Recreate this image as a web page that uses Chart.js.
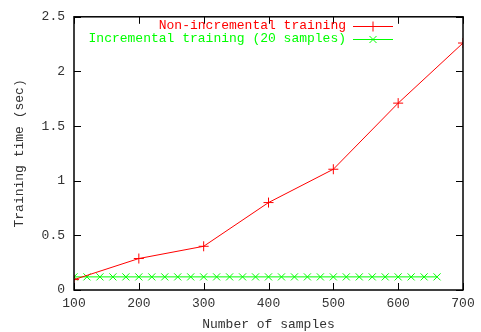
<!DOCTYPE html>
<html>
<head>
<meta charset="UTF-8">
<style>
  html, body { margin: 0; padding: 0; background: #fff; }
  #wrap { width: 481px; height: 332px; }
</style>
</head>
<body>
<div id="wrap"><canvas id="chart" width="481" height="332"></canvas></div>
<script src="https://cdn.jsdelivr.net/npm/chart.js@4.4.1/dist/chart.umd.min.js"></script>
<script>
  const xTicks = [100, 200, 300, 400, 500, 600, 700]
  const yTicks = [0, 0.5, 1, 1.5, 2, 2.5]

  const redLabel = 'Non-incremental training'
  const redX = [100, 200, 300, 400, 500, 600, 700]
  const redY = [0.095, 0.288, 0.40, 0.80, 1.105, 1.71, 2.26]

  const greenLabel = 'Incremental training (20 samples)'
  const greenX = [100, 120, 140, 160, 180, 200, 220, 240, 260, 280, 300, 320, 340, 360, 380,
                  400, 420, 440, 460, 480, 500, 520, 540, 560, 580, 600, 620, 640, 660]
  const greenY = [0.12, 0.12, 0.12, 0.12, 0.12, 0.12, 0.12, 0.12, 0.12, 0.12, 0.12, 0.12, 0.12, 0.12, 0.12,
                  0.12, 0.12, 0.12, 0.12, 0.12, 0.12, 0.12, 0.12, 0.12, 0.12, 0.12, 0.12, 0.12, 0.12]

  const FONT = '"Liberation Mono", "DejaVu Sans Mono", monospace'
  const TEXT = '#333'
  const RED = '#ff0000'
  const GREEN = '#00ff00'

  const toPoints = (xs, ys) => xs.map((x, i) => ({ x: x, y: ys[i] }))

  // gnuplot style frame, inward ticks on all four sides, legend top right
  const gnuFrame = {
    id: 'gnuFrame',
    afterDatasetsDraw(chart) {
      const ctx = chart.ctx
      const a = chart.chartArea
      const xs = chart.scales.x
      const ys = chart.scales.y
      ctx.save()
      ctx.strokeStyle = '#000'
      ctx.lineWidth = 1.5
      ctx.strokeRect(a.left, a.top, a.right - a.left, a.bottom - a.top)
      ctx.lineWidth = 1
      ctx.beginPath()
      xTicks.forEach(v => {
        const px = Math.round(xs.getPixelForValue(v)) + 0.5
        ctx.moveTo(px, a.bottom); ctx.lineTo(px, a.bottom - 7)
        ctx.moveTo(px, a.top); ctx.lineTo(px, a.top + 7)
      })
      yTicks.forEach(v => {
        const py = Math.round(ys.getPixelForValue(v)) + 0.5
        ctx.moveTo(a.left, py); ctx.lineTo(a.left + 7, py)
        ctx.moveTo(a.right, py); ctx.lineTo(a.right - 7, py)
      })
      ctx.stroke()

      // legend
      ctx.font = '13px ' + FONT
      ctx.textAlign = 'right'
      ctx.textBaseline = 'middle'
      const rows = [
        { text: redLabel, color: RED, style: 'cross', y: 26 },
        { text: greenLabel, color: GREEN, style: 'crossRot', y: 39 }
      ]
      rows.forEach(r => {
        ctx.fillStyle = r.color
        ctx.fillText(r.text, 346, r.y)
        ctx.strokeStyle = r.color
        ctx.lineWidth = 1
        ctx.beginPath()
        ctx.moveTo(353, r.y + 0.5); ctx.lineTo(393, r.y + 0.5)
        ctx.stroke()
        Chart.helpers.drawPoint(ctx, { pointStyle: r.style, radius: 5, borderWidth: 1 }, 373, r.y + 0.5)
      })
      ctx.restore()
    }
  }

  const ctx = document.getElementById('chart').getContext('2d')
  const chart = new Chart(ctx, {
    type: 'scatter',
    data: {
      datasets: [{
        label: redLabel,
        data: toPoints(redX, redY),
        showLine: true,
        borderColor: RED,
        backgroundColor: RED,
        borderWidth: 1,
        pointStyle: 'cross',
        pointRadius: 5,
        pointBorderWidth: 1
      }, {
        label: greenLabel,
        data: toPoints(greenX, greenY),
        showLine: true,
        borderColor: GREEN,
        backgroundColor: GREEN,
        borderWidth: 1,
        pointStyle: 'crossRot',
        pointRadius: 5,
        pointBorderWidth: 1
      }]
    },
    options: {
      responsive: false,
      animation: false,
      events: [],
      layout: { padding: { top: 10, right: 18, left: 0, bottom: 0 } },
      plugins: { legend: { display: false }, tooltip: { enabled: false } },
      scales: {
        x: {
          type: 'linear',
          min: 100, max: 700,
          afterBuildTicks: s => { s.ticks = xTicks.map(v => ({ value: v })) },
          afterFit: s => { s.height = 42 },
          grid: { display: false, drawTicks: false },
          border: { display: false },
          ticks: { color: TEXT, padding: 6, font: { family: FONT, size: 13 }, callback: v => String(v) },
          title: { display: true, text: 'Number of samples', color: TEXT, padding: { top: 2, bottom: 0 }, font: { family: FONT, size: 13 } }
        },
        y: {
          min: 0, max: 2.5,
          afterBuildTicks: s => { s.ticks = yTicks.map(v => ({ value: v })) },
          afterFit: s => { s.width = 74 },
          grid: { display: false, drawTicks: false },
          border: { display: false },
          ticks: { color: TEXT, padding: 9, font: { family: FONT, size: 13 }, callback: v => String(v) },
          title: { display: true, text: 'Training time (sec)', color: TEXT, padding: { top: 12, bottom: 0 }, font: { family: FONT, size: 13 } }
        }
      }
    },
    plugins: [gnuFrame]
  })
</script>
</body>
</html>
